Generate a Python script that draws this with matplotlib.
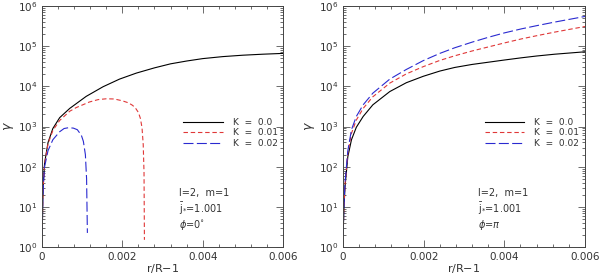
import matplotlib
matplotlib.use("Agg")
import matplotlib.pyplot as plt
from matplotlib.ticker import MultipleLocator, LogLocator, FixedLocator, FixedFormatter, NullFormatter

# ---- data ----
x_ticks = [0.0, 0.002, 0.004, 0.006]
x_ticklabels = ["0", "0.002", "0.004", "0.006"]
labels = ["K  =  0.0", "K  =  0.01", "K  =  0.02"]

# left panel (phi = 0)
r_l0 = [5e-6, 2e-5, 4e-5, 6.5e-5, 1.5e-4, 2.7e-4, 4.4e-4, 6.9e-4, 1.1e-3, 1.52e-3,
        1.93e-3, 2.35e-3, 2.8e-3, 3.2e-3, 3.6e-3, 4.0e-3, 4.5e-3, 5.0e-3, 5.5e-3, 6e-3]
g_l0 = [2.0, 15.8, 50, 123, 398, 891, 1660, 2818, 5623, 9772,
        15136, 21380, 28840, 36308, 42658, 48978, 54954, 59566, 63096, 66069]
r_l1 = [5e-6, 2e-5, 4e-5, 6.5e-5, 1.5e-4, 2.7e-4, 4.4e-4, 6.9e-4, 8.5e-4, 1.18e-3,
        1.4e-3, 1.6e-3, 1.8e-3, 2.0e-3, 2.15e-3, 2.25e-3, 2.32e-3, 2.4e-3, 2.45e-3,
        2.49e-3, 2.52e-3, 2.54e-3, 2.55e-3]
g_l1 = [2.0, 15.8, 50, 117, 372, 794, 1413, 2399, 2951, 4074,
        4677, 4898, 4842, 4365, 3890, 3388, 2951, 2239, 1585,
        933, 355, 70.8, 1.51]
r_l2 = [5e-6, 2e-5, 4e-5, 6.5e-5, 1.5e-4, 2.7e-4, 4.4e-4, 5.5e-4, 6.6e-4, 7.8e-4,
        8.8e-4, 9.8e-4, 1.03e-3, 1.08e-3, 1.11e-3, 1.13e-3]
g_l2 = [2.0, 15.8, 45, 100, 251, 468, 741, 891, 933, 912,
        832, 603, 427, 200, 50, 2.24]

# right panel (phi = pi)
r_r = [5e-6, 2e-5, 5e-5, 1.2e-4, 2.1e-4, 3.3e-4, 5e-4, 7.4e-4, 1.16e-3, 1.57e-3,
       1.99e-3, 2.4e-3, 2.77e-3, 3.2e-3, 3.6e-3, 4.0e-3, 4.42e-3, 4.8e-3, 5.25e-3, 6e-3]
g_r0 = [2.0, 7.9, 31.6, 178, 468, 955, 1778, 3467, 7413, 12303,
        17783, 23988, 29512, 35075, 39811, 45186, 51286, 56885, 63096, 72444]
g_r1 = [2.0, 8.9, 35.5, 224, 676, 1445, 2818, 5495, 12023, 20417,
        30903, 44157, 57544, 75858, 95499, 120226, 151356, 181970, 223872, 309030]
g_r2 = [2.0, 8.9, 40, 251, 832, 1778, 3467, 6761, 15136, 26303,
        43652, 66069, 91201, 125893, 165959, 213796, 269153, 323594, 398107, 549541]

colors = ["black", "#e03838", "#2a2ad0"]
styles = ["-", (0, (4, 2.5)), (0, (9, 3))]

plt.rcParams["font.family"] = ["DejaVu Sans"]
fig = plt.figure(figsize=(6.0, 2.8), dpi=100)
ax1 = fig.add_axes([42/600, 33/280, 241/600, 241/280])
ax2 = fig.add_axes([343/600, 33/280, 242/600, 241/280])

panels = [
    (ax1, [(r_l0, g_l0), (r_l1, g_l1), (r_l2, g_l2)], r"$\phi$=0$^{\circ}$", 0.568),
    (ax2, [(r_r, g_r0), (r_r, g_r1), (r_r, g_r2)], r"$\phi$=$\pi$", 0.558),
]

for ax, series, phitxt, tx in panels:
    for (r, g), c, ls, lab in zip(series, colors, styles, labels):
        ax.plot(r, g, color=c, linestyle=ls, linewidth=0.8, label=lab)
    ax.set_yscale("log")
    ax.set_xlim(0, 0.006)
    ax.set_ylim(1, 1e6)
    ax.xaxis.set_major_locator(FixedLocator(x_ticks))
    ax.xaxis.set_major_formatter(FixedFormatter(x_ticklabels))
    ax.xaxis.set_minor_locator(MultipleLocator(0.0004))
    ax.yaxis.set_major_locator(LogLocator(base=10, numticks=10))
    ax.yaxis.set_minor_locator(LogLocator(base=10, subs=range(2, 10), numticks=20))
    ax.yaxis.set_minor_formatter(NullFormatter())
    ax.tick_params(which="both", direction="in", top=True, right=True,
                   labelsize=7.5, labelcolor="#333333", width=0.6, color="#555555")
    ax.tick_params(which="major", length=5)
    ax.tick_params(which="minor", length=2.5)
    for s in ax.spines.values():
        s.set_linewidth(0.7)
        s.set_color("#444444")
    ax.set_xlabel("r/R$-$1", fontsize=8, color="#333333", labelpad=0)
    ax.set_ylabel(r"$\gamma$", fontsize=9, color="#333333", labelpad=1)
    leg = ax.legend(loc="upper left", bbox_to_anchor=(0.585, 0.535), frameon=False,
                    fontsize=6.5, handlelength=4.4, handletextpad=1.1, labelspacing=0.15,
                    borderaxespad=0, borderpad=0, labelcolor="#333333")
    ax.text(tx, 0.224, "l=2,  m=1", transform=ax.transAxes, fontsize=7, color="#333333",
            va="center")
    ax.text(tx, 0.158, r"$\bar{\mathrm{j}}_{*}$=1.001", transform=ax.transAxes, fontsize=7,
            color="#333333", va="center")
    ax.text(tx, 0.091, phitxt, transform=ax.transAxes, fontsize=7, color="#333333",
            va="center")

fig.savefig("out.png", dpi=100)
